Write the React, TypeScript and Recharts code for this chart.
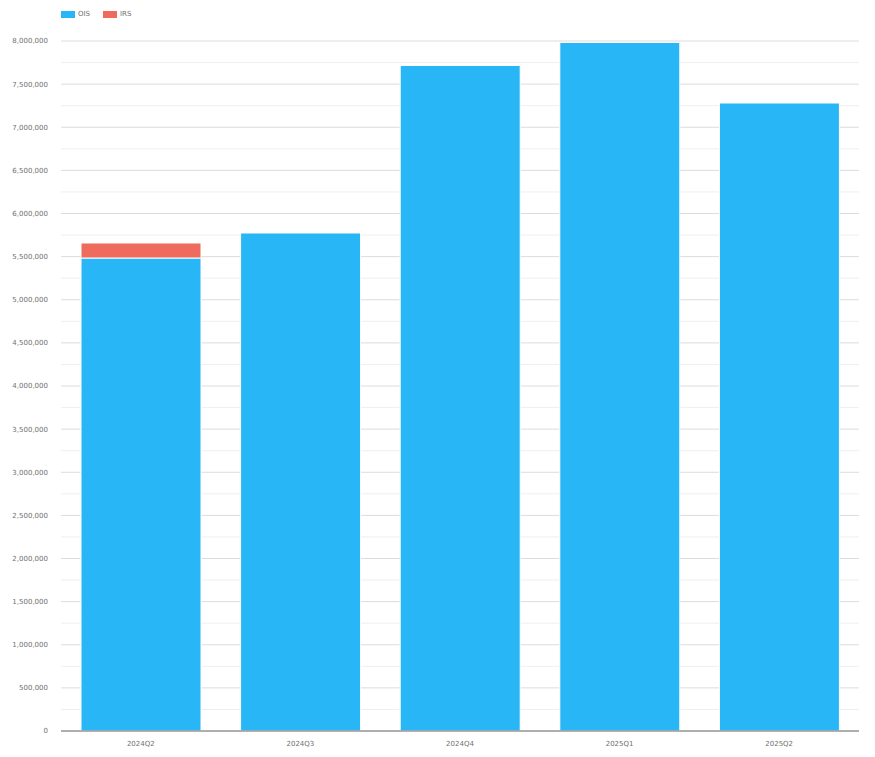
import React from "react";
import {
  BarChart,
  Bar,
  XAxis,
  YAxis,
  CartesianGrid,
} from "recharts";

const quarters = ["2024Q2", "2024Q3", "2024Q4", "2025Q1", "2025Q2"];
const oisValues = [5484000, 5774000, 7716000, 7983000, 7281000];
const irsValues = [174000, 0, 0, 0, 0];

const majorTicks = [
  0, 500000, 1000000, 1500000, 2000000, 2500000, 3000000, 3500000, 4000000,
  4500000, 5000000, 5500000, 6000000, 6500000, 7000000, 7500000, 8000000,
];
const minorTicks = [
  250000, 750000, 1250000, 1750000, 2250000, 2750000, 3250000, 3750000,
  4250000, 4750000, 5250000, 5750000, 6250000, 6750000, 7250000, 7750000,
];

const OIS_COLOR = "#29b6f6";
const IRS_COLOR = "#ef6b5d";
const FONT = "'DejaVu Sans', Verdana, sans-serif";
const TEXT = "#707070";

const data = quarters.map((q, i) => ({
  quarter: q,
  OIS: oisValues[i],
  IRS: irsValues[i],
}));

const legendItems = [
  { name: "OIS", color: OIS_COLOR },
  { name: "IRS", color: IRS_COLOR },
];

export default function App() {
  return (
    <div style={{ position: "relative", width: 875, height: 757, fontFamily: FONT }}>
      <style>{`body{margin:0}`}</style>
      {/* legend */}
      <div
        style={{
          position: "absolute",
          top: 10,
          left: 61,
          display: "flex",
          gap: 13,
          fontSize: 7,
          color: TEXT,
          zIndex: 1,
        }}
      >
        {legendItems.map((it) => (
          <div key={it.name} style={{ display: "flex", alignItems: "center", gap: 3 }}>
            <span style={{ display: "inline-block", width: 14, height: 7, background: it.color }} />
            <span>{it.name}</span>
          </div>
        ))}
      </div>
      <BarChart
        width={875}
        height={757}
        data={data}
        margin={{ top: 41, right: 16, bottom: 6, left: 0 }}
        barSize={120}
      >
        <CartesianGrid
          vertical={false}
          horizontalValues={minorTicks}
          stroke="#efefef"
          strokeWidth={1}
        />
        <CartesianGrid
          vertical={false}
          horizontalValues={majorTicks}
          stroke="#dcdcdc"
          strokeWidth={1}
        />
        <XAxis
          dataKey="quarter"
          height={20}
          tickLine={false}
          axisLine={{ stroke: "#999", strokeWidth: 1.5 }}
          tick={{ fontSize: 7, fill: TEXT, fontFamily: FONT }}
          tickMargin={4}
        />
        <YAxis
          width={61}
          domain={[0, 8000000]}
          ticks={majorTicks}
          interval={0}
          axisLine={false}
          tickLine={false}
          tick={{ fontSize: 7, fill: TEXT, fontFamily: FONT }}
          tickMargin={7}
          tickFormatter={(v: number) => v.toLocaleString("en-US")}
        />
        <Bar
          dataKey="OIS"
          stackId="a"
          fill={OIS_COLOR}
          stroke="#fff"
          strokeWidth={1}
          isAnimationActive={false}
        />
        <Bar
          dataKey="IRS"
          stackId="a"
          fill={IRS_COLOR}
          stroke="#fff"
          strokeWidth={1}
          isAnimationActive={false}
        />
      </BarChart>
    </div>
  );
}
